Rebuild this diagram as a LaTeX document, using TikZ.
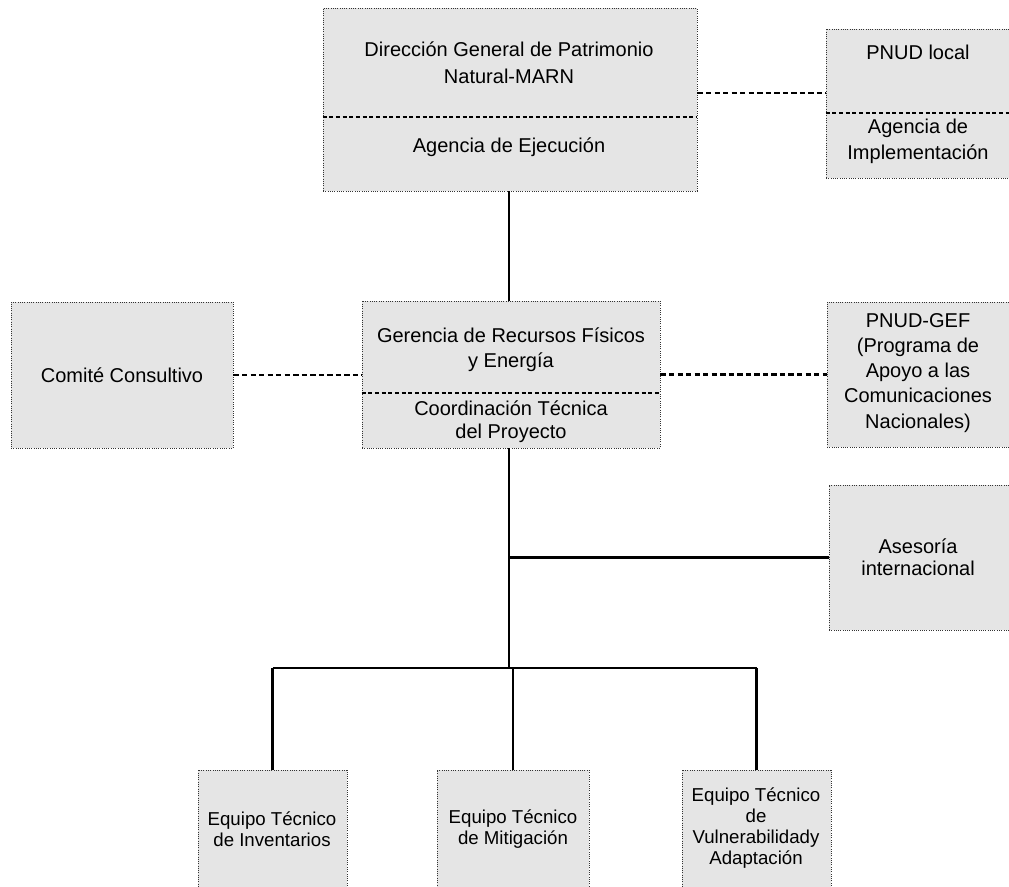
\documentclass[tikz,border=0pt]{standalone}
\usepackage{fontspec}
\setmainfont{Liberation Sans}
\usetikzlibrary{positioning}
\usetikzlibrary{fit,calc}
\tikzstyle{unitbox}=[draw=black!80,densely dotted,line width=0.7pt,fill=black!10,inner sep=0pt]
\tikzstyle{boxtext}=[align=center,inner sep=0pt,font=\fontsize{15}{20}\selectfont]
\tikzstyle{teamtext}=[align=center,inner sep=0pt,font=\fontsize{14}{15.8}\selectfont]
\tikzstyle{divider}=[draw,densely dashed,line width=0.8pt]
\tikzstyle{solidlink}=[draw,line width=2pt]
\tikzstyle{dashlink}=[draw,line width=2pt,dash pattern=on 4pt off 2.4pt]

\begin{document}
\begin{tikzpicture}[x=0.75pt, y=-0.75pt]

  \useasboundingbox (0,0) rectangle (1009,887);
  \clip (0,0) rectangle (1009,887);

  % boxes
  \node[unitbox, fit={(323,8) (697,191)}] (dgpn) {};
  \node[unitbox, fit={(826,29) (1012,178)}] (pnudloc) {};
  \node[unitbox, fit={(11,302) (233,448)}] (comite) {};
  \node[unitbox, fit={(362,301) (660,448)}] (gerencia) {};
  \node[unitbox, fit={(827,302) (1012,447)}] (pnudgef) {};
  \node[unitbox, fit={(829,485) (1012,630)}] (asesoria) {};
  \foreach \x/\w/\name in {198/347/eq1, 437/589/eq2, 682/831/eq3}
    \node[unitbox, fit={(\x,770) (\w,900)}] (\name) {};

  % dividers
  \draw[divider] (dgpn.west |- 0,117) -- (dgpn.east |- 0,117);
  \draw[divider] (pnudloc.west |- 0,113) -- (pnudloc.east |- 0,113);
  \draw[divider] (gerencia.west |- 0,393) -- (gerencia.east |- 0,393);

  % texts
  \node[boxtext] (dgpntop) at (509,63) {Dirección General de Patrimonio\\Natural-MARN};
  \node[boxtext] (dgpnbot) at (509,147) {Agencia de Ejecución};
  \node[boxtext] (pnudloctop) at (918,52) {PNUD local};
  \node[boxtext, font=\fontsize{15}{19.5}\selectfont] (pnudlocbot) at (918,141) {Agencia de\\Implementación};
  \node[boxtext] (comitetxt) at (122,375) {Comité Consultivo};
  \node[boxtext, font=\fontsize{15}{18.8}\selectfont] (gerenciatop) at (511,350) {Gerencia de Recursos Físicos\\y Energía};
  \node[boxtext, font=\fontsize{15}{17.5}\selectfont] (gerenciabot) at (511,422) {Coordinación Técnica\\del Proyecto};
  \node[boxtext, font=\fontsize{15}{18.8}\selectfont] (pnudgeftxt) at (918,373) {PNUD-GEF\\(Programa de\\Apoyo a las\\Comunicaciones\\Nacionales)};
  \node[boxtext, font=\fontsize{15}{16.5}\selectfont] (asesoriatxt) at (918,557) {Asesoría\\internacional};
  \node[teamtext] (eq1txt) at (272,829) {Equipo Técnico\\de Inventarios};
  \node[teamtext] (eq2txt) at (513,829) {Equipo Técnico\\de Mitigación};
  \node[teamtext] (eq3txt) at (756,828) {Equipo Técnico\\de\\Vulnerabilidady\\Adaptación};

  % dashed links
  \coordinate (dl) at (0,93);
  \draw[dashlink] (dgpn.east |- dl) -- (pnudloc.west |- dl);
  \draw[dashlink] (comite.east) -- (comite.east -| gerencia.west);
  \draw[dashlink] (gerencia.east) -- (gerencia.east -| pnudgef.west);

  % solid links
  \coordinate (trunk) at (509,668);
  \draw[solidlink] (dgpn.south -| trunk) -- (gerencia.north -| trunk);
  \draw[solidlink] (gerencia.south -| trunk) -- (trunk);
  \draw[solidlink] (asesoria.west) -- (asesoria.west -| trunk);
  \draw[solidlink] (eq1.north |- trunk) -- (eq3.north |- trunk);
  \foreach \name in {eq1, eq2, eq3}
    \draw[solidlink] (\name.north |- trunk) -- (\name.north);

\end{tikzpicture}
\end{document}
